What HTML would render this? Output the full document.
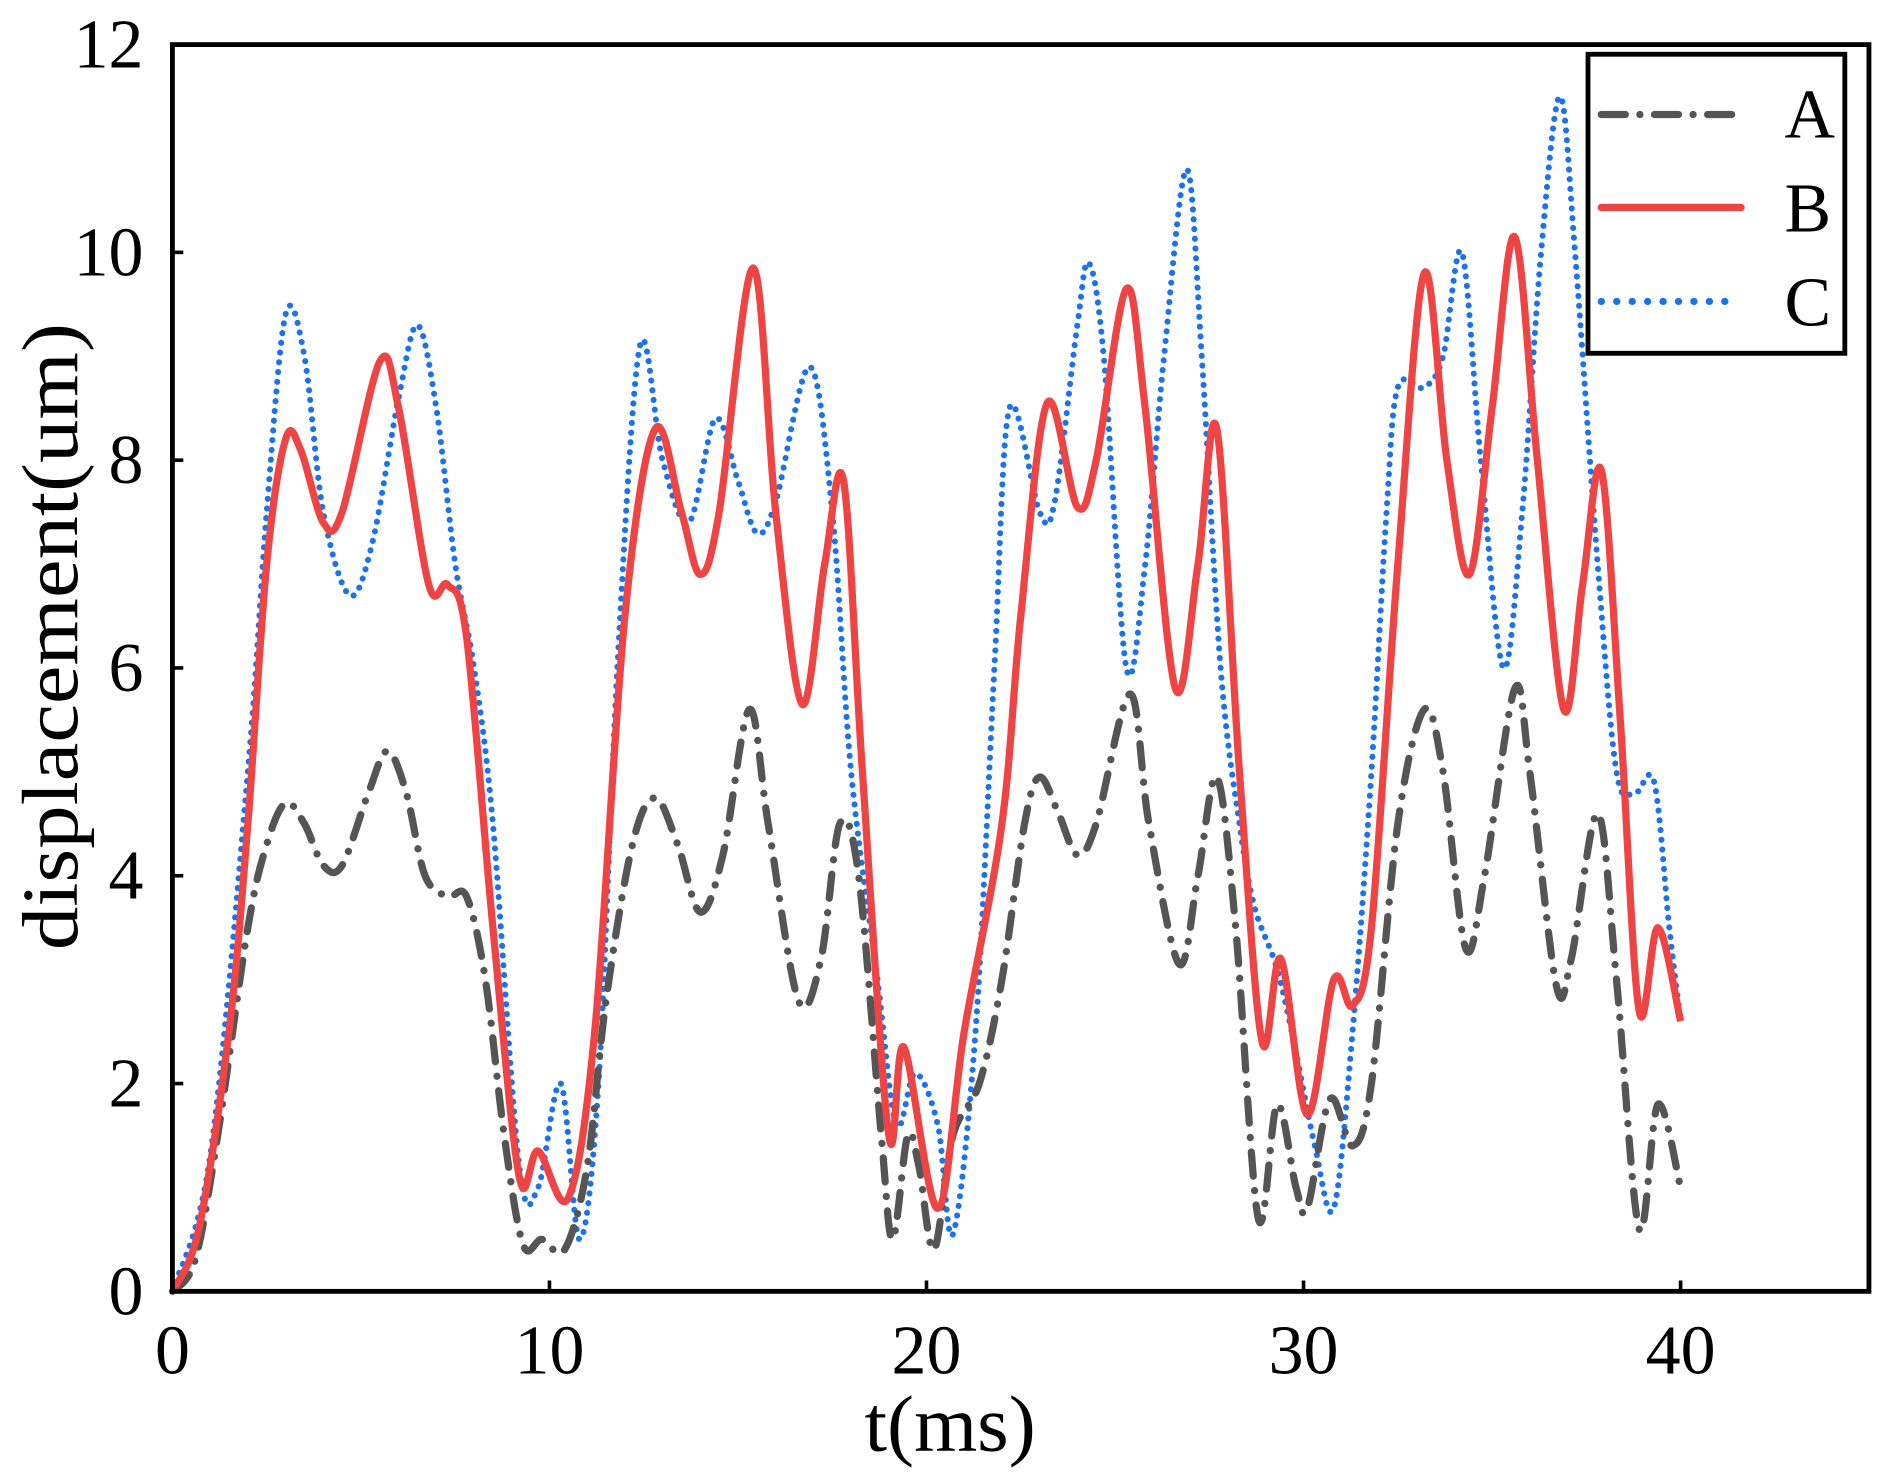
<!DOCTYPE html>
<html><head><meta charset="utf-8"><style>
html,body{margin:0;padding:0;background:#fff;}
svg{display:block;}
text{font-family:"Liberation Serif","Times New Roman",serif;fill:#000;}
</style></head><body>
<svg id="chart" width="1881" height="1478" viewBox="0 0 1560 1225.8" preserveAspectRatio="none" xmlns="http://www.w3.org/2000/svg">
<g id="grid"></g>
<g id="series"></g>
<rect x="143" y="37" width="1407" height="1034" fill="none" stroke="#000" stroke-width="4"/>
<g>
<rect x="1317" y="45" width="213" height="248" fill="#fff" stroke="#000" stroke-width="4"/>
<line x1="1328" y1="95" x2="1442" y2="95" stroke="#555" stroke-width="6" stroke-linecap="round" stroke-dasharray="20,12,0.1,12"/>
<text x="1480" y="114" font-size="58">A</text>
<line x1="1328" y1="172" x2="1444" y2="172" stroke="#ef4444" stroke-width="6" stroke-linecap="round"/>
<text x="1480" y="192" font-size="58">B</text>
<line x1="1328" y1="250" x2="1442" y2="250" stroke="#1a73e8" stroke-width="6" stroke-linecap="round" stroke-dasharray="0.1,12.7"/>
<text x="1480" y="270" font-size="58">C</text>
</g>
<text x="788" y="1203" font-size="66" text-anchor="middle" textLength="142" lengthAdjust="spacingAndGlyphs">t(ms)</text>
<text transform="translate(64,528) rotate(-90)" font-size="66" text-anchor="middle" textLength="520" lengthAdjust="spacingAndGlyphs">displacement(um)</text>
</svg>
<script>
const xTicks=[0,10,20,30,40];
const yTicks=[0,2,4,6,8,10,12];
const tA=[0,0.6,1.2,2,2.5,3,3.5,4,4.5,5.2,5.7,6.2,6.7,7.3,7.8,8.3,8.8,9.3,9.8,10.4,11,11.5,12.2,12.8,13.4,14,14.6,15.3,15.8,16.6,17.2,17.7,18.2,18.8,19.1,19.5,19.8,20.2,20.7,21.4,22,22.6,23,23.5,24,24.5,25.4,25.9,26.7,27.2,27.7,28.2,28.8,29.3,29.8,30.1,30.7,31.3,31.8,32.5,33.2,33.7,34.3,34.8,35.6,36,36.7,37.1,37.8,38.3,38.9,39.4,40];
const vA=[0,0.3,1.5,3.5,4.3,4.7,4.5,4.1,4.1,4.8,5.2,4.8,4,3.8,3.8,3,1.5,0.45,0.5,0.4,1.2,2.8,4.3,4.75,4.3,3.65,4.2,5.6,4.5,2.8,3.2,4.5,4,1.5,0.5,1.5,1.2,0.4,1.5,2,3,4.5,4.95,4.6,4.2,4.5,5.75,4.5,3.15,4,4.95,3.5,0.7,1.8,1,0.8,1.85,1.4,2,4.5,5.6,5,3.3,4,5.8,5,2.95,3.2,4.6,3,0.6,1.8,1.0];
const tB=[0,0.7,1.5,2,2.5,3,3.4,4,4.5,5.5,6,6.8,7.3,7.8,8.5,9.2,9.7,10.5,11.2,12,12.8,13.5,14,14.5,15.4,16,16.7,17.3,17.8,18.3,19,19.4,20.3,21,22,22.5,23.2,24,24.5,25.3,25.8,26.6,27.2,27.7,28.3,28.9,29.4,30.1,30.8,31.3,31.8,32.5,33.2,33.8,34.4,35,35.6,36.2,36.9,37.4,37.9,38.4,38.9,39.4,40];
const vB=[0,0.6,2.5,4.5,7,8.2,8.1,7.4,7.5,8.95,8.5,6.8,6.8,6.3,3.5,1.1,1.35,0.9,2.5,6.5,8.3,7.5,6.9,7.5,9.85,7.5,5.65,7,7.8,5,1.5,2.35,0.8,2.5,4.5,6.5,8.55,7.55,8,9.65,8.5,5.8,7,8.3,5,2.4,3.2,1.7,3,2.75,3.5,7,9.8,8,6.9,8.5,10.15,8,5.6,6.8,7.9,5.5,2.7,3.5,2.6];
const tC=[0,1,2,2.5,3,3.5,4,4.7,5.3,6,6.5,7,7.5,8,8.5,9.2,9.7,10.3,10.8,11.3,11.8,12.4,13,13.7,14.4,15,15.5,16,16.9,17.5,18,18.7,19.2,19.7,20.3,20.7,21.3,21.8,22.2,23,23.4,24,24.3,24.7,25.3,25.8,26.3,26.9,27.3,27.8,28.3,28.7,29.3,29.8,30.3,30.8,31.3,31.8,32.2,32.5,33.2,33.7,34.2,34.7,35.3,35.8,36.3,36.8,37.2,37.8,38.3,38.8,39.3,39.7,40];
const vC=[0,1.3,5,7.5,9.4,9,7.5,6.7,7.2,8.6,9.3,8.5,7,6,4.5,1.2,1.0,2.0,0.5,2,6,9.1,8,7.4,8.4,7.8,7.3,7.6,8.9,7.5,5,3,1.6,2.1,1.6,0.55,2.5,6,8.5,7.5,7.6,9.3,9.9,9,6,7,9,10.8,9,6,4.5,3.7,3.1,2.3,1.4,0.8,2.5,5,7.5,8.7,8.7,9,10,8,6,7.5,10,11.5,10,7,5,4.8,4.9,3.5,2.6];

const NS='http://www.w3.org/2000/svg';
const X0=143,XS=31.27,Y0=1071,YS=86.17;
function sx(t){return X0+t*XS;}
function sy(v){return Y0-v*YS;}
const g=document.getElementById('grid');
function mk(tag,attrs,parent){const e=document.createElementNS(NS,tag);for(const k in attrs)e.setAttribute(k,attrs[k]);parent.appendChild(e);return e;}
xTicks.forEach(t=>{
  const l=mk('line',{x1:sx(t),x2:sx(t),y1:Y0,y2:Y0-9,stroke:'#000','stroke-width':3},g);
  
  
  const tx=mk('text',{x:sx(t),y:1139,'font-size':58,'text-anchor':'middle'},g);
  tx.textContent=t;
  
  
});
yTicks.forEach(v=>{
  const l=mk('line',{x1:X0,x2:X0+9,y1:sy(v),y2:sy(v),stroke:'#000','stroke-width':3},g);
  
  
  const tx=mk('text',{x:119,y:sy(v)+19,'font-size':58,'text-anchor':'end'},g);
  tx.textContent=v;
  
  
});
function pathD(ts,vs){
  const p=ts.map((t,i)=>[sx(t),sy(vs[i])]);
  let d='M'+p[0][0]+','+p[0][1];
  for(let i=0;i<p.length-1;i++){
    const p0=p[i-1]||p[i],p1=p[i],p2=p[i+1],p3=p[i+2]||p2;
    const c1=[p1[0]+(p2[0]-p0[0])/6,p1[1]+(p2[1]-p0[1])/6];
    const c2=[p2[0]-(p3[0]-p1[0])/6,p2[1]-(p3[1]-p1[1])/6];
    d+=' C'+c1+' '+c2+' '+p2;
  }
  return d;
}
const s=document.getElementById('series');
const pc=mk('path',{d:pathD(tC,vC),fill:'none',stroke:'#1a73e8','stroke-width':5,'stroke-linecap':'round','stroke-dasharray':'0.1,8'},s);


const pa=mk('path',{d:pathD(tA,vA),fill:'none',stroke:'#555','stroke-width':6,'stroke-linecap':'round','stroke-dasharray':'20,12,0.1,12'},s);


const pb=mk('path',{d:pathD(tB,vB),fill:'none',stroke:'#ef4444','stroke-width':6,'stroke-linejoin':'round'},s);


</script>
</body></html>
